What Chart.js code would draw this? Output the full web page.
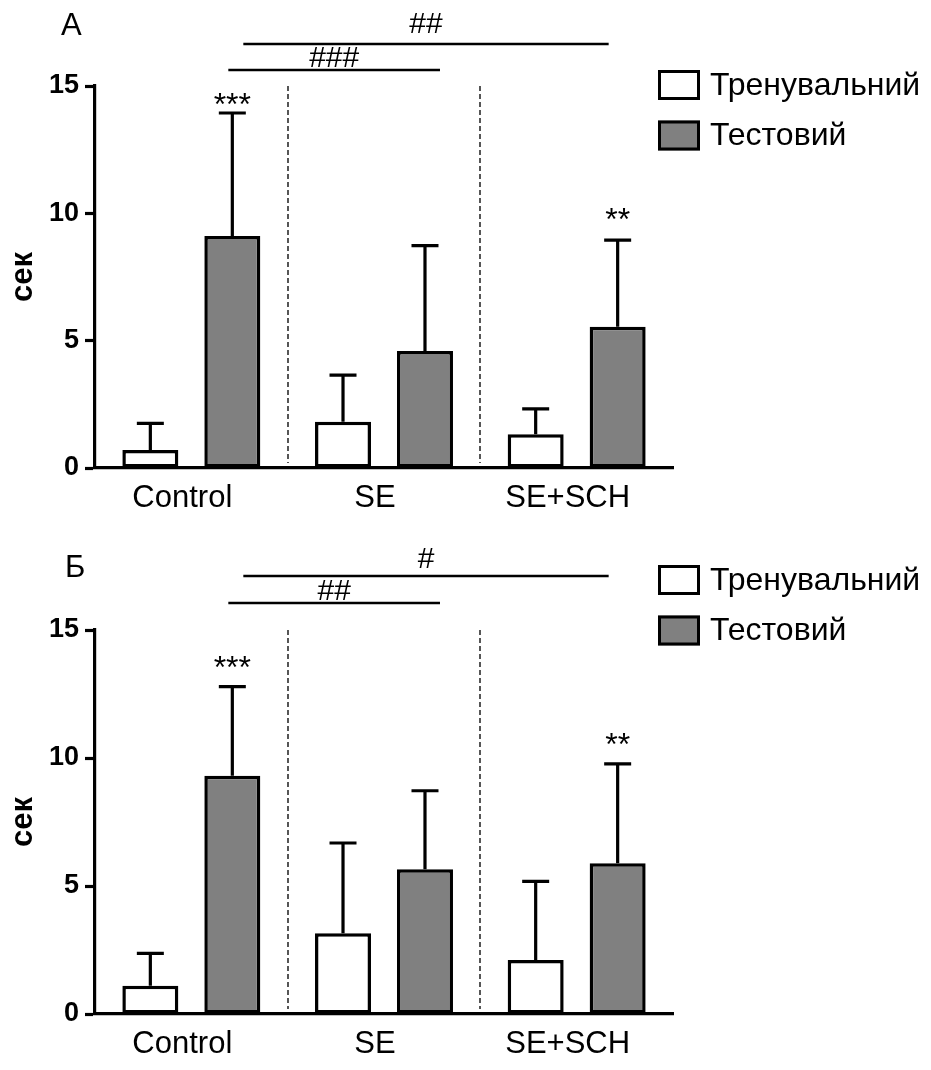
<!DOCTYPE html>
<html>
<head>
<meta charset="utf-8">
<script src="https://cdn.jsdelivr.net/npm/chart.js@4.4.0/dist/chart.umd.min.js"></script>
<style>
  html, body { margin: 0; padding: 0; background: #fff; }
  #wrap { width: 931px; height: 1070px; }
  canvas { display: block; }
</style>
</head>
<body>
<div id="wrap">
  <canvas id="panelA" width="931" height="535"></canvas>
  <canvas id="panelB" width="931" height="535"></canvas>
</div>
<script>
(function () {
  'use strict';

  const GROUPS = ['Control', 'SE', 'SE+SCH'];
  const SERIES = ['Тренувальний', 'Тестовий'];
  const Y_TICKS = [0, 5, 10, 15];

  // panel А
  const TRAIN_A = [0.71, 1.82, 1.33];
  const TRAIN_ERR_A = [1.04, 1.83, 0.99];
  const TEST_A = [9.11, 4.59, 5.55];
  const TEST_ERR_A = [4.83, 4.14, 3.40];

  // panel Б
  const TRAIN_B = [1.10, 3.15, 2.11];
  const TRAIN_ERR_B = [1.27, 3.53, 3.07];
  const TEST_B = [9.31, 5.65, 5.89];
  const TEST_ERR_B = [3.48, 3.07, 3.88];

  // test vs training trial, marked over the test bar
  const STARS_A = [{ group: 0, text: '***' }, { group: 2, text: '**' }];
  const STARS_B = [{ group: 0, text: '***' }, { group: 2, text: '**' }];
  // test bars compared between groups
  const HASH_A = [{ from: 0, to: 2, text: '##' }, { from: 0, to: 1, text: '###' }];
  const HASH_B = [{ from: 0, to: 2, text: '#' }, { from: 0, to: 1, text: '##' }];

  const FONT = '"Liberation Sans", Arial, sans-serif';
  const FILLS = ['#ffffff', '#808080'];
  const HASH_SPAN = [[11, -9], [-4, 15]];

  function makeDecorations(o) {
    return {
      id: 'decorations',
      beforeDatasetsDraw(chart) {
        const { ctx, chartArea: area, scales: { x } } = chart;
        ctx.save();
        ctx.setLineDash([5, 3]);
        ctx.lineWidth = 1.8;
        ctx.strokeStyle = '#444';
        for (let i = 1; i < GROUPS.length; i++) {
          const px = Math.round((x.getPixelForValue(i - 1) + x.getPixelForValue(i)) / 2);
          ctx.beginPath();
          ctx.moveTo(px, area.top);
          ctx.lineTo(px, area.bottom - 5);
          ctx.stroke();
        }
        ctx.restore();
      },
      afterDatasetsDraw(chart) {
        const { ctx, scales: { y } } = chart;
        ctx.save();
        ctx.strokeStyle = '#000';
        ctx.fillStyle = '#000';
        ctx.lineWidth = 3.2;

        // error bars, upper half only
        chart.data.datasets.forEach((ds, di) => {
          chart.getDatasetMeta(di).data.forEach((bar, i) => {
            const y0 = y.getPixelForValue(ds.data[i]);
            const y1 = y.getPixelForValue(ds.data[i] + ds.errors[i]);
            ctx.beginPath();
            ctx.moveTo(bar.x, y0);
            ctx.lineTo(bar.x, y1);
            ctx.moveTo(bar.x - 13.5, y1);
            ctx.lineTo(bar.x + 13.5, y1);
            ctx.stroke();
          });
        });

        const test = chart.data.datasets[1];
        const testBars = chart.getDatasetMeta(1).data;
        ctx.textAlign = 'center';
        ctx.textBaseline = 'alphabetic';

        ctx.font = '32px ' + FONT;
        o.stars.forEach((s, k) => {
          const top = y.getPixelForValue(test.data[s.group] + test.errors[s.group]);
          ctx.fillText(s.text, testBars[s.group].x, top - o.starGap[k] + 0.575 * 32);
        });

        ctx.lineWidth = 2.6;
        ctx.font = '30px ' + FONT;
        o.hashes.forEach((h, k) => {
          const x0 = testBars[h.from].x + HASH_SPAN[k][0];
          const x1 = testBars[h.to].x + HASH_SPAN[k][1];
          const ly = o.hashLines[k];
          ctx.beginPath();
          ctx.moveTo(x0, ly);
          ctx.lineTo(x1, ly);
          ctx.stroke();
          ctx.fillText(h.text, (x0 + x1) / 2, ly - o.hashTextGap[k]);
        });

        // legend
        ctx.textAlign = 'left';
        ctx.textBaseline = 'middle';
        ctx.font = '32px ' + FONT;
        ctx.lineWidth = 3;
        chart.data.datasets.forEach((ds, i) => {
          const by = o.legendTop + i * 50.5;
          ctx.fillStyle = ds.backgroundColor;
          ctx.fillRect(658, by, 42, 30);
          ctx.strokeRect(659.5, by + 1.5, 39, 27);
          ctx.fillStyle = '#000';
          ctx.fillText(ds.label, 710, by + 16);
        });

        ctx.textBaseline = 'alphabetic';
        ctx.font = '31px ' + FONT;
        ctx.fillText(o.letter, o.letterX, o.letterY);
        ctx.restore();
      }
    };
  }

  function makePanel(id, train, trainErr, test, testErr, o) {
    return new Chart(document.getElementById(id), {
      type: 'bar',
      data: {
        labels: GROUPS,
        datasets: [
          { label: SERIES[0], data: train, errors: trainErr, backgroundColor: FILLS[0] },
          { label: SERIES[1], data: test, errors: testErr, backgroundColor: FILLS[1] }
        ]
      },
      options: {
        responsive: false,
        animation: false,
        layout: { padding: { top: o.top, right: 258, left: 0, bottom: 0 } },
        datasets: {
          bar: {
            borderColor: '#000', borderWidth: 3.5, borderSkipped: false, inflateAmount: 0,
            categoryPercentage: 0.851, barPercentage: 0.683
          }
        },
        scales: {
          x: {
            grid: { display: false, drawTicks: false },
            border: { display: true, color: '#000', width: 3.2, z: 1 },
            ticks: { color: '#000', font: { family: FONT, size: 31 }, padding: 12, labelOffset: -9 },
            afterFit(s) { s.height = o.xAxisH; }
          },
          y: {
            min: 0,
            max: 15,
            afterBuildTicks(s) { s.ticks = Y_TICKS.map(v => ({ value: v })); },
            grid: { drawOnChartArea: false, drawTicks: true, tickLength: 10, tickWidth: 3.2, tickColor: '#000' },
            border: { display: true, color: '#000', width: 3.2, z: 1 },
            ticks: { color: '#000', font: { family: FONT, size: 27, weight: 'bold' }, padding: 6 },
            title: {
              display: true, text: 'сек', color: '#000',
              font: { family: FONT, size: 31, weight: 'bold' }, padding: { top: 5, bottom: 0 }
            },
            afterFit(s) { s.width = 95; }
          }
        },
        plugins: { legend: { display: false }, tooltip: { enabled: false } }
      },
      plugins: [makeDecorations(o)]
    });
  }

  makePanel('panelA', TRAIN_A, TRAIN_ERR_A, TEST_A, TEST_ERR_A, {
    letter: 'А', letterX: 61, letterY: 35, top: 86, xAxisH: 67, legendTop: 70,
    stars: STARS_A, starGap: [16, 28],
    hashes: HASH_A, hashLines: [44, 70], hashTextGap: [11, 3]
  });

  makePanel('panelB', TRAIN_B, TRAIN_ERR_B, TEST_B, TEST_ERR_B, {
    letter: 'Б', letterX: 65, letterY: 42, top: 95, xAxisH: 56, legendTop: 30,
    stars: STARS_B, starGap: [27, 27],
    hashes: HASH_B, hashLines: [41, 68], hashTextGap: [8, 3]
  });
})();
</script>
</body>
</html>
